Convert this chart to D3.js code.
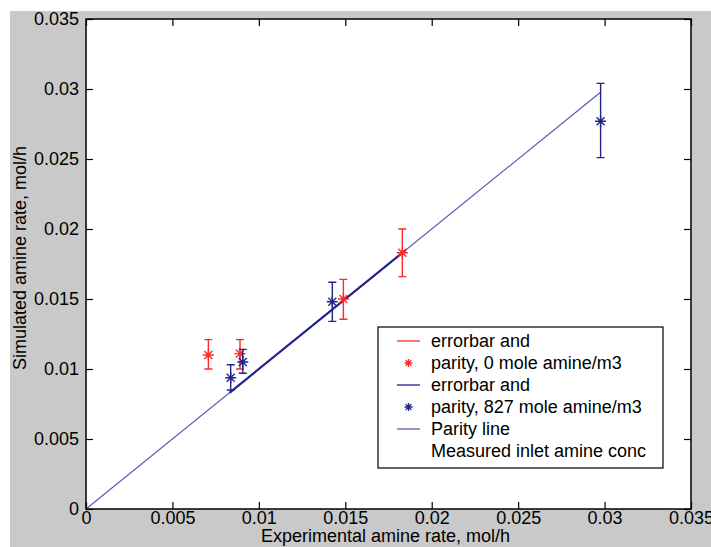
<!DOCTYPE html>
<html>
<head>
<meta charset="utf-8">
<script src="https://cdn.jsdelivr.net/npm/d3@7"></script>
<style>
  html, body { margin: 0; padding: 0; background: #fff; }
  svg { display: block; }
</style>
</head>
<body>
<div id="chart"></div>
<script>
/* ---- data ---- */
const xTicks = [0, 0.005, 0.01, 0.015, 0.02, 0.025, 0.03, 0.035];
const yTicks = [0, 0.005, 0.01, 0.015, 0.02, 0.025, 0.03, 0.035];

// 0 mole amine/m3 (red)
const redX  = [0.00708, 0.00891, 0.01489, 0.0183];
const redY  = [0.0110, 0.0111, 0.0150, 0.0183];
const redLo = [0.0100, 0.0100, 0.01355, 0.0166];
const redHi = [0.0121, 0.0121, 0.0164, 0.0200];

// 827 mole amine/m3 (blue)
const blueX  = [0.00837, 0.00907, 0.01425, 0.02977];
const blueY  = [0.00938, 0.0105, 0.0148, 0.0277];
const blueLo = [0.0085, 0.0097, 0.0134, 0.0251];
const blueHi = [0.0103, 0.0114, 0.0162, 0.0304];

// parity line and the darker overlapping segment
const parityX = [0, 0.0298];
const darkSegX = [0.0083, 0.0185];

const legendLabels = [
  'errorbar and',
  'parity, 0 mole amine/m3',
  'errorbar and',
  'parity, 827 mole amine/m3',
  'Parity line',
  'Measured inlet amine conc'
];

/* ---- layout ---- */
const W = 711, H = 547;
const plot = { left: 86, top: 19, right: 691, bottom: 509 };
const RED = '#ff2a2a', NAVY = '#23238c', PARITY = '#5a5ab4';
const FONT = '"Liberation Sans", Arial, Helvetica, sans-serif';

const svg = d3.select('#chart').append('svg')
  .attr('width', W).attr('height', H);

// figure background
svg.append('rect')
  .attr('x', 10).attr('y', 11)
  .attr('width', W - 10).attr('height', H - 11)
  .attr('fill', '#c9c9c9');

svg.append('rect')
  .attr('x', plot.left).attr('y', plot.top)
  .attr('width', plot.right - plot.left).attr('height', plot.bottom - plot.top)
  .attr('fill', '#fff');

const x = d3.scaleLinear().domain([0, 0.035]).range([plot.left, plot.right]);
const y = d3.scaleLinear().domain([0, 0.035]).range([plot.bottom, plot.top]);

// axes (ticks inward, mirrored on top/right)
const tickLen = 7;
const fmt = d => d === 0 ? '0' : String(+d.toFixed(3));

svg.append('g')
  .attr('transform', `translate(0,${plot.bottom})`)
  .call(d3.axisBottom(x).tickValues(xTicks).tickFormat(fmt).tickSizeInner(-tickLen).tickSizeOuter(0).tickPadding(2))
  .call(g => g.select('.domain').remove());

svg.append('g')
  .attr('transform', `translate(0,${plot.top})`)
  .call(d3.axisTop(x).tickValues(xTicks).tickFormat('').tickSizeInner(-tickLen).tickSizeOuter(0))
  .call(g => g.select('.domain').remove());

svg.append('g')
  .attr('transform', `translate(${plot.left},0)`)
  .call(d3.axisLeft(y).tickValues(yTicks).tickFormat(fmt).tickSizeInner(-tickLen).tickSizeOuter(0).tickPadding(7))
  .call(g => g.select('.domain').remove());

svg.append('g')
  .attr('transform', `translate(${plot.right},0)`)
  .call(d3.axisRight(y).tickValues(yTicks).tickFormat('').tickSizeInner(-tickLen).tickSizeOuter(0))
  .call(g => g.select('.domain').remove());

svg.selectAll('.tick line').attr('stroke', '#000').attr('stroke-width', 1.2);
svg.selectAll('.tick text')
  .attr('fill', '#000')
  .attr('font-family', FONT)
  .attr('font-size', '18px');

// axis labels
svg.append('text')
  .attr('x', (plot.left + plot.right) / 2 - 3)
  .attr('y', 542)
  .attr('text-anchor', 'middle')
  .attr('font-family', FONT).attr('font-size', '18px').attr('fill', '#000')
  .text('Experimental amine rate, mol/h');

svg.append('text')
  .attr('transform', `translate(26,${(plot.top + plot.bottom) / 2 - 6}) rotate(-90)`)
  .attr('text-anchor', 'middle')
  .attr('font-family', FONT).attr('font-size', '18px').attr('fill', '#000')
  .text('Simulated amine rate, mol/h');

/* ---- lines ---- */
const diag = d3.line().x(d => x(d)).y(d => y(d));

svg.append('path')
  .datum(parityX)
  .attr('d', diag)
  .attr('fill', 'none')
  .attr('stroke', PARITY)
  .attr('stroke-width', 1.2);

svg.append('path')
  .datum(darkSegX)
  .attr('d', diag)
  .attr('fill', 'none')
  .attr('stroke', NAVY)
  .attr('stroke-width', 2.2);

/* ---- error bars + star markers ---- */
function star(g, cx, cy, color, r) {
  const a = r * 0.72;
  const p = `M${cx - r},${cy}H${cx + r}M${cx},${cy - r}V${cy + r}` +
            `M${cx - a},${cy - a}L${cx + a},${cy + a}M${cx - a},${cy + a}L${cx + a},${cy - a}`;
  g.append('path').attr('d', p).attr('stroke', color).attr('stroke-width', 1.4).attr('fill', 'none');
}

function drawSeries(xs, ys, lo, hi, color) {
  const g = svg.append('g');
  const cap = 4;
  xs.forEach((xv, i) => {
    const cx = x(xv);
    g.append('path')
      .attr('d', `M${cx},${y(lo[i])}V${y(hi[i])}` +
                 `M${cx - cap},${y(lo[i])}H${cx + cap}` +
                 `M${cx - cap},${y(hi[i])}H${cx + cap}`)
      .attr('stroke', color)
      .attr('stroke-width', 1.4)
      .attr('fill', 'none');
    star(g, cx, y(ys[i]), color, 5.5);
  });
}

drawSeries(redX, redY, redLo, redHi, RED);
drawSeries(blueX, blueY, blueLo, blueHi, NAVY);

// plot frame
svg.append('rect')
  .attr('x', plot.left).attr('y', plot.top)
  .attr('width', plot.right - plot.left).attr('height', plot.bottom - plot.top)
  .attr('fill', 'none')
  .attr('stroke', '#000')
  .attr('stroke-width', 1.5);

/* ---- legend ---- */
const lg = svg.append('g');
lg.append('rect')
  .attr('x', 378).attr('y', 327)
  .attr('width', 285).attr('height', 141)
  .attr('fill', '#fff')
  .attr('stroke', '#000')
  .attr('stroke-width', 1.2);

const rowY = i => 341 + i * 22;
const sample = [
  { type: 'line', color: RED },
  { type: 'star', color: RED },
  { type: 'line', color: NAVY },
  { type: 'star', color: NAVY },
  { type: 'line', color: PARITY },
  { type: 'none' }
];

legendLabels.forEach((label, i) => {
  const s = sample[i];
  if (s.type === 'line') {
    lg.append('line')
      .attr('x1', 397).attr('x2', 420)
      .attr('y1', rowY(i)).attr('y2', rowY(i))
      .attr('stroke', s.color).attr('stroke-width', 1.3);
  } else if (s.type === 'star') {
    star(lg, 408.5, rowY(i), s.color, 4);
  }
  lg.append('text')
    .attr('x', 431)
    .attr('y', rowY(i))
    .attr('dy', '0.35em')
    .attr('font-family', FONT).attr('font-size', '18px').attr('fill', '#000')
    .text(label);
});
</script>
</body>
</html>
